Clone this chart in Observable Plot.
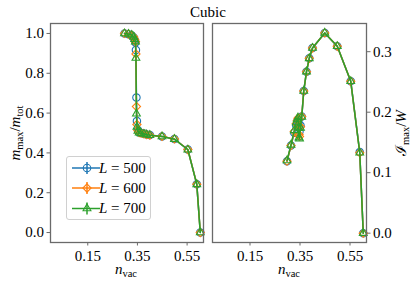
<!DOCTYPE html>
<html><head><meta charset="utf-8">
<script src="https://cdn.jsdelivr.net/npm/d3@7"></script>
<script src="https://cdn.jsdelivr.net/npm/@observablehq/plot@0.6"></script>
<style>
body{margin:0;background:#fff;}
#fig{position:relative;width:416px;height:286px;font-family:"Liberation Serif","DejaVu Serif",serif;color:#000;overflow:hidden;}
#fig svg.plot{position:absolute;top:0;}
.lbl{position:absolute;font-size:15px;white-space:nowrap;line-height:1;}
.lbl sub{font-size:10.5px;vertical-align:-3px;line-height:0;}
.rot{transform:translate(-50%,-50%) rotate(-90deg);}
.ctr{transform:translate(-50%,-50%);}
#legend{position:absolute;left:66px;top:156px;width:85px;height:64px;border:1px solid #d0d0d0;border-radius:3px;background:rgba(255,255,255,0.8);box-sizing:border-box;}
#legend svg{position:absolute;left:0;top:0;}
.lg{position:absolute;font-size:15px;left:32px;white-space:nowrap;line-height:1;}
</style></head>
<body>
<div id="fig"></div>
<script>
// ---- data ----
const sizes = [500, 600, 700];
const seriesColors = ["#1f77b4", "#ff7f0e", "#2ca02c"];
const seriesSymbols = ["circle", "diamond2", "triangle2"];

const nVac500 = [0.298, 0.314, 0.327, 0.335, 0.339, 0.342, 0.344, 0.346, 0.348, 0.352, 0.357, 0.365, 0.376, 0.387, 0.400, 0.449, 0.499, 0.553, 0.589, 0.603];
const mRatio500 = [1.000, 0.996, 0.990, 0.980, 0.968, 0.955, 0.917, 0.678, 0.560, 0.515, 0.503, 0.500, 0.497, 0.493, 0.490, 0.483, 0.470, 0.417, 0.243, 0.000];
const iRatio500 = [0.119, 0.145, 0.166, 0.178, 0.184, 0.188, 0.183, 0.175, 0.168, 0.178, 0.193, 0.235, 0.267, 0.289, 0.306, 0.331, 0.309, 0.251, 0.134, 0.000];

const nVac600 = [0.298, 0.314, 0.327, 0.335, 0.339, 0.342, 0.344, 0.346, 0.348, 0.352, 0.357, 0.365, 0.376, 0.387, 0.400, 0.449, 0.499, 0.553, 0.589, 0.603];
const mRatio600 = [1.000, 0.997, 0.991, 0.982, 0.970, 0.958, 0.897, 0.633, 0.543, 0.512, 0.502, 0.499, 0.496, 0.492, 0.489, 0.483, 0.470, 0.417, 0.243, 0.000];
const iRatio600 = [0.119, 0.145, 0.168, 0.181, 0.186, 0.190, 0.178, 0.163, 0.160, 0.176, 0.193, 0.235, 0.267, 0.289, 0.306, 0.331, 0.309, 0.251, 0.133, 0.000];

const nVac700 = [0.298, 0.314, 0.327, 0.335, 0.339, 0.342, 0.344, 0.346, 0.348, 0.352, 0.357, 0.365, 0.376, 0.387, 0.400, 0.449, 0.499, 0.553, 0.589, 0.603];
const mRatio700 = [1.000, 0.997, 0.992, 0.983, 0.971, 0.959, 0.877, 0.597, 0.530, 0.510, 0.501, 0.498, 0.495, 0.492, 0.489, 0.482, 0.469, 0.416, 0.242, 0.000];
const iRatio700 = [0.120, 0.146, 0.170, 0.183, 0.188, 0.191, 0.174, 0.158, 0.156, 0.174, 0.192, 0.235, 0.267, 0.289, 0.306, 0.331, 0.309, 0.251, 0.133, 0.000];

const xTicks = [0.15, 0.35, 0.55];
const yTicksLeft = [0.0, 0.2, 0.4, 0.6, 0.8, 1.0];
const yTicksRight = [0.0, 0.1, 0.2, 0.3];

// ---- build table ----
const nAll = [nVac500, nVac600, nVac700];
const mAll = [mRatio500, mRatio600, mRatio700];
const iAll = [iRatio500, iRatio600, iRatio700];
const rows = sizes.map((L, k) => nAll[k].map((n, j) => ({L, n, m: mAll[k][j], I: iAll[k][j]})));

const font = '"Liberation Serif","DejaVu Serif",serif';
const frameColor = "#6a6a6a";

function seriesMarks(yKey) {
  const out = [];
  rows.forEach(data => {
    out.push(Plot.line(data, {x: "n", y: yKey, stroke: "L", strokeWidth: 1.5}));
    out.push(Plot.dot(data, {x: "n", y: yKey, stroke: "L", symbol: "L", fill: "none", r: 3.7, strokeWidth: 1.1}));
  });
  return out;
}

const common = {
  height: 286, marginTop: 23, marginBottom: 44,
  x: {domain: [0, 0.616]},
  color: {domain: sizes, range: seriesColors},
  symbol: {domain: sizes, range: seriesSymbols},
  style: {fontFamily: font, fontSize: "15px", background: "transparent", color: "#000", overflow: "visible"}
};

const left = Plot.plot({
  ...common,
  width: 208, marginLeft: 50, marginRight: 5,
  y: {domain: [-0.05, 1.05]},
  marks: [
    Plot.axisX({ticks: xTicks, tickFormat: d3.format(".2f"), tickSize: 3.5, tickPadding: 4, label: null, stroke: frameColor}),
    Plot.axisY({ticks: yTicksLeft, tickFormat: d3.format(".1f"), tickSize: 3.5, tickPadding: 3, label: null, stroke: frameColor}),
    ...seriesMarks("m"),
    Plot.frame({stroke: frameColor, strokeWidth: 1.3})
  ]
});
left.classList.add("plot");
left.style.left = "0px";

const right = Plot.plot({
  ...common,
  width: 208, marginLeft: 4, marginRight: 50,
  y: {domain: [-0.0154, 0.3466]},
  marks: [
    Plot.axisX({ticks: xTicks, tickFormat: d3.format(".2f"), tickSize: 3.5, tickPadding: 4, label: null, stroke: frameColor}),
    Plot.axisY({anchor: "right", ticks: yTicksRight, tickFormat: d3.format(".1f"), tickSize: 3.5, tickPadding: 3, label: null, stroke: frameColor}),
    ...seriesMarks("I"),
    Plot.frame({stroke: frameColor, strokeWidth: 1.3})
  ]
});
right.classList.add("plot");
right.style.left = "208px";

const fig = document.getElementById("fig");
fig.appendChild(left);
fig.appendChild(right);

function addLabel(html, x, y, cls) {
  const d = document.createElement("div");
  d.className = "lbl " + cls;
  d.style.left = x + "px";
  d.style.top = y + "px";
  d.innerHTML = html;
  fig.appendChild(d);
}
addLabel("Cubic", 208, 12, "ctr");
addLabel('<i>n</i><sub>vac</sub>', 126, 269, "ctr");
addLabel('<i>n</i><sub>vac</sub>', 289, 269, "ctr");
addLabel('<i>m</i><sub>max</sub>/<i>m</i><sub>tot</sub>', 15, 133, "rot");
addLabel('ℐ<sub>max</sub>/<i>W</i>', 401, 133, "rot");

// legend
const lg = document.createElement("div");
lg.id = "legend";
fig.appendChild(lg);
const lsvg = d3.select(lg).append("svg").attr("width", 85).attr("height", 64);
const rowY = [11, 31, 51.5];
sizes.forEach((L, k) => {
  const g = lsvg.append("g").attr("transform", `translate(0,${rowY[k]})`);
  g.append("line").attr("x1", 5).attr("x2", 33).attr("y1", 0).attr("y2", 0).attr("stroke", seriesColors[k]).attr("stroke-width", 1.5);
  g.append("line").attr("x1", 20).attr("x2", 20).attr("y1", -6).attr("y2", 6).attr("stroke", seriesColors[k]).attr("stroke-width", 1.5);
  const sym = [d3.symbolCircle, d3.symbolDiamond2, d3.symbolTriangle2][k];
  g.append("path").attr("transform", "translate(20,0)").attr("d", d3.symbol(sym, 44)()).attr("fill", "none").attr("stroke", seriesColors[k]).attr("stroke-width", 1.1);
  const t = document.createElement("div");
  t.className = "lg";
  t.style.top = (rowY[k] - 7.5) + "px";
  t.innerHTML = `<i>L</i> = ${L}`;
  lg.appendChild(t);
});
</script>
</body></html>
